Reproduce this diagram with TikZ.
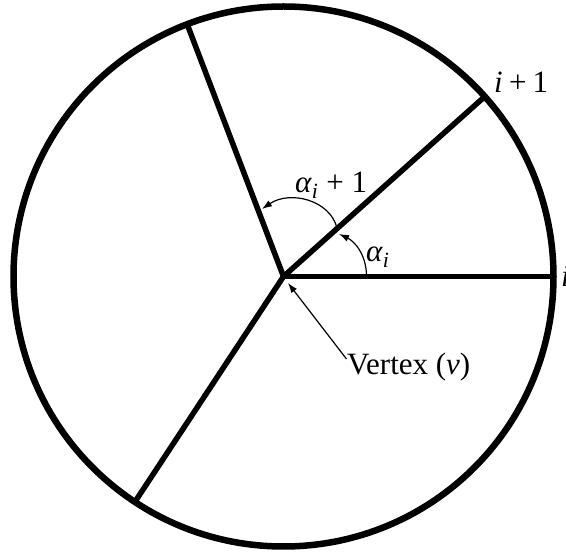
\documentclass[tikz,border=0pt]{standalone}
\usepackage{fontspec}
\setmainfont{Liberation Serif}
\usetikzlibrary{arrows.meta}
\begin{document}
\begin{tikzpicture}[x=1pt,y=-1pt,
  thickline/.style={line width=5.5pt},
  rim/.style={line width=6.5pt},
  thinarrow/.style={line width=1.2pt,-{Latex[length=10pt,width=7pt]}},
  lbl/.style={inner sep=0pt,font=\fontsize{31}{37}\selectfont}]
\useasboundingbox (0,0) rectangle (566,553);
\coordinate (v) at (283.5,276.5);
\draw[rim] (v) circle[radius=270];
\coordinate (p0) at (553.5,276.5);
\coordinate (p1) at (484.8,96.5);
\coordinate (p2) at (187.2,24.3);
\coordinate (p3) at (134.9,501.9);
\draw[thickline] (v) -- (p0);
\draw[thickline] (v) -- (p1);
\draw[thickline] (v) -- (p2);
\draw[thickline] (v) -- (p3);
% labels
\node[lbl,anchor=base west] (ip1) at (494,93) {\textit{i}\hspace{0.2em}+\hspace{0.2em}1};
\node[lbl,anchor=base west] (ii) at (561,287) {\textit{i}};
\node[lbl,anchor=base west] (aip1) at (295,193) {\textit{α}\textsubscript{\textit{i}}\hspace{0.25em}+\hspace{0.25em}1};
\node[lbl,anchor=base west] (ai) at (366,262) {\textit{α}\textsubscript{\textit{i}}};
\node[lbl,anchor=base west] (vert) at (347,375) {Vertex (\textit{v})};
% arcs
\coordinate (a0) at (366.5,276.5);
\coordinate (a1) at (339,234);
\draw[thinarrow] (a0) .. controls (366.5,254) and (354,241) .. (a1);
\coordinate (b0) at (337,228);
\coordinate (b1) at (262,209);
\draw[thinarrow] (b0) .. controls (330,200) and (290,190) .. (b1);
\coordinate (c0) at (346.5,359);
\coordinate (c1) at (288,283);
\draw[thinarrow] (c0) -- (c1);
\end{tikzpicture}
\end{document}
